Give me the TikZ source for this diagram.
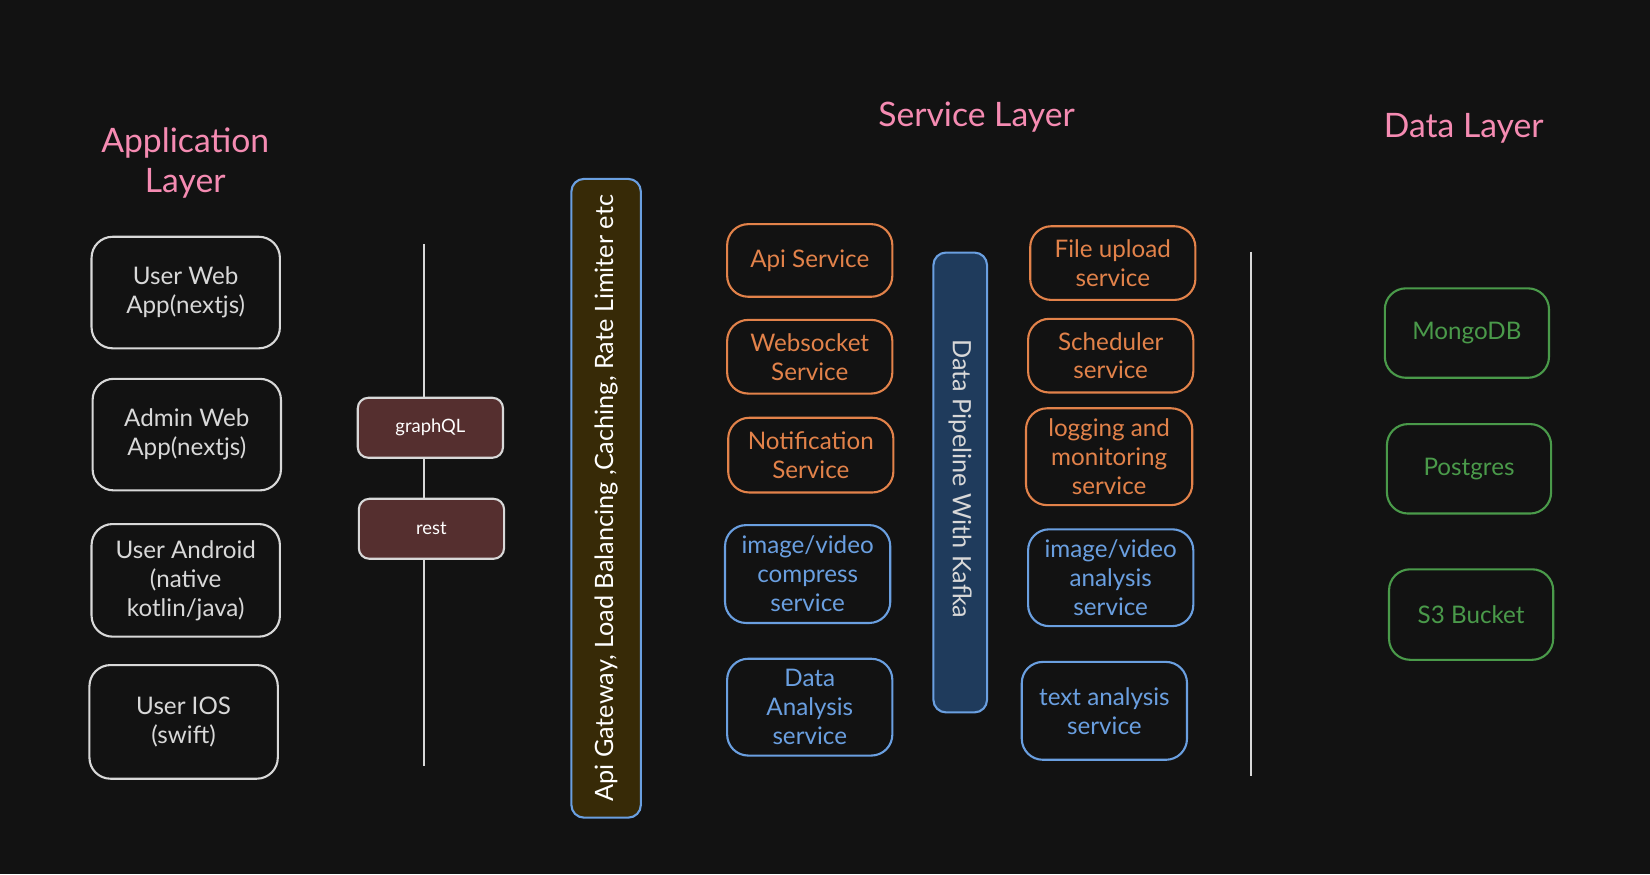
\documentclass[tikz,border=0pt]{standalone}
\usepackage{fontspec}
\setmainfont{Lato}
\definecolor{bg}{HTML}{121212}
\definecolor{wht}{HTML}{D8D8D8}
\definecolor{pinkc}{HTML}{F58BB2}
\definecolor{orng}{HTML}{E2824A}
\definecolor{blu}{HTML}{6A9FE0}
\definecolor{grn}{HTML}{4A9A4A}
\definecolor{maroon}{HTML}{552F2F}
\definecolor{gwfill}{HTML}{372A07}
\definecolor{kfill}{HTML}{1F3B5C}
\tikzset{
  box/.style={draw=#1, text=#1, line width=2pt, rounded corners=20pt, fill=bg,
    inner sep=0pt, align=center, font=\fontsize{23}{27.5}\selectfont},
  title/.style={text=pinkc, align=center, font=\fontsize{32}{38}\selectfont},
  pill/.style={draw=wht, line width=2pt, rounded corners=10pt, fill=maroon, text=white,
    minimum width=138pt, minimum height=57pt, inner sep=0pt, font=\fontsize{17.5}{20}\selectfont},
  bar/.style={draw=blu, line width=2pt, rounded corners=12pt, inner sep=0pt},
  sep/.style={draw=wht, line width=2pt},
}
\begin{document}
\begin{tikzpicture}[x=1pt,y=-1pt]
\fill[bg] (0,0) rectangle (1568,831);
\useasboundingbox (0,0) rectangle (1568,831);
% titles
\node[title] (tapp) at (176,155) {Application\\Layer};
\node[title] (tsvc) at (928,111) {Service Layer};
\node[title] (tdata) at (1391,122) {Data Layer};
% application layer
\node[box=wht, minimum width=179pt, minimum height=106pt] (uweb) at (176.5,278) {User Web\\App(nextjs)};
\node[box=wht, minimum width=179pt, minimum height=106pt] (aweb) at (177.5,413) {Admin Web\\App(nextjs)};
\node[box=wht, minimum width=179pt, minimum height=107pt] (uand) at (176.5,551.5) {User Android\\(native\\kotlin/java)};
\node[box=wht, minimum width=179pt, minimum height=108pt] (uios) at (174.5,686) {User IOS\\(swift)};
% protocol line
\coordinate (l1top) at (403,232);
\coordinate (l1bot) at (403,728);
\draw[sep] (l1top) -- (l1bot);
\node[pill] (gql) at (409,406.5) {graphQL};
\node[pill] (rest) at (410,502.5) {rest};
% gateway
\node[bar, fill=gwfill, minimum width=66pt, minimum height=607pt] (gw) at (576,473.5) {};
\node[text=white, rotate=90, font=\fontsize{24}{28}\selectfont] (gwt) at (gw.center) {Api Gateway, Load Balancing ,Caching, Rate Limiter etc};
% service column 1
\node[box=orng, minimum width=157pt, minimum height=69pt] (api) at (769.5,247.5) {Api Service};
\node[box=orng, minimum width=157pt, minimum height=70pt] (ws) at (769.5,339) {Websocket\\Service};
\node[box=orng, minimum width=157pt, minimum height=71pt] (notif) at (770.5,432.5) {Notification\\Service};
\node[box=blu, minimum width=157pt, minimum height=93pt] (ivc) at (767.5,545.5) {image/video\\compress\\service};
\node[box=blu, minimum width=157pt, minimum height=92pt] (da) at (769.5,672) {Data\\Analysis\\service};
% kafka
\node[bar, fill=kfill, minimum width=51pt, minimum height=437pt] (kafka) at (912.5,458.5) {};
\node[text=wht, rotate=-90, font=\fontsize{24}{28}\selectfont] (kt) at (912.5,455) {Data Pipeline With Kafka};
% service column 2
\node[box=orng, minimum width=157pt, minimum height=70pt] (fu) at (1057.5,250) {File upload\\service};
\node[box=orng, minimum width=157pt, minimum height=70pt] (sch) at (1055.5,338) {Scheduler\\service};
\node[box=orng, minimum width=158pt, minimum height=92pt] (logm) at (1054,434) {logging and\\monitoring\\service};
\node[box=blu, minimum width=157pt, minimum height=92pt] (iva) at (1055.5,549) {image/video\\analysis\\service};
\node[box=blu, minimum width=157pt, minimum height=93pt] (ta) at (1049.5,675.5) {text analysis\\service};
% separator
\coordinate (l2top) at (1189,239);
\coordinate (l2bot) at (1189,737);
\draw[sep] (l2top) -- (l2bot);
% data layer
\node[box=grn, minimum width=156pt, minimum height=85pt] (mongo) at (1394,316.5) {MongoDB};
\node[box=grn, minimum width=156pt, minimum height=85pt] (pg) at (1396,445.5) {Postgres};
\node[box=grn, minimum width=156pt, minimum height=86pt] (s3) at (1398,584) {S3 Bucket};
\end{tikzpicture}
\end{document}
